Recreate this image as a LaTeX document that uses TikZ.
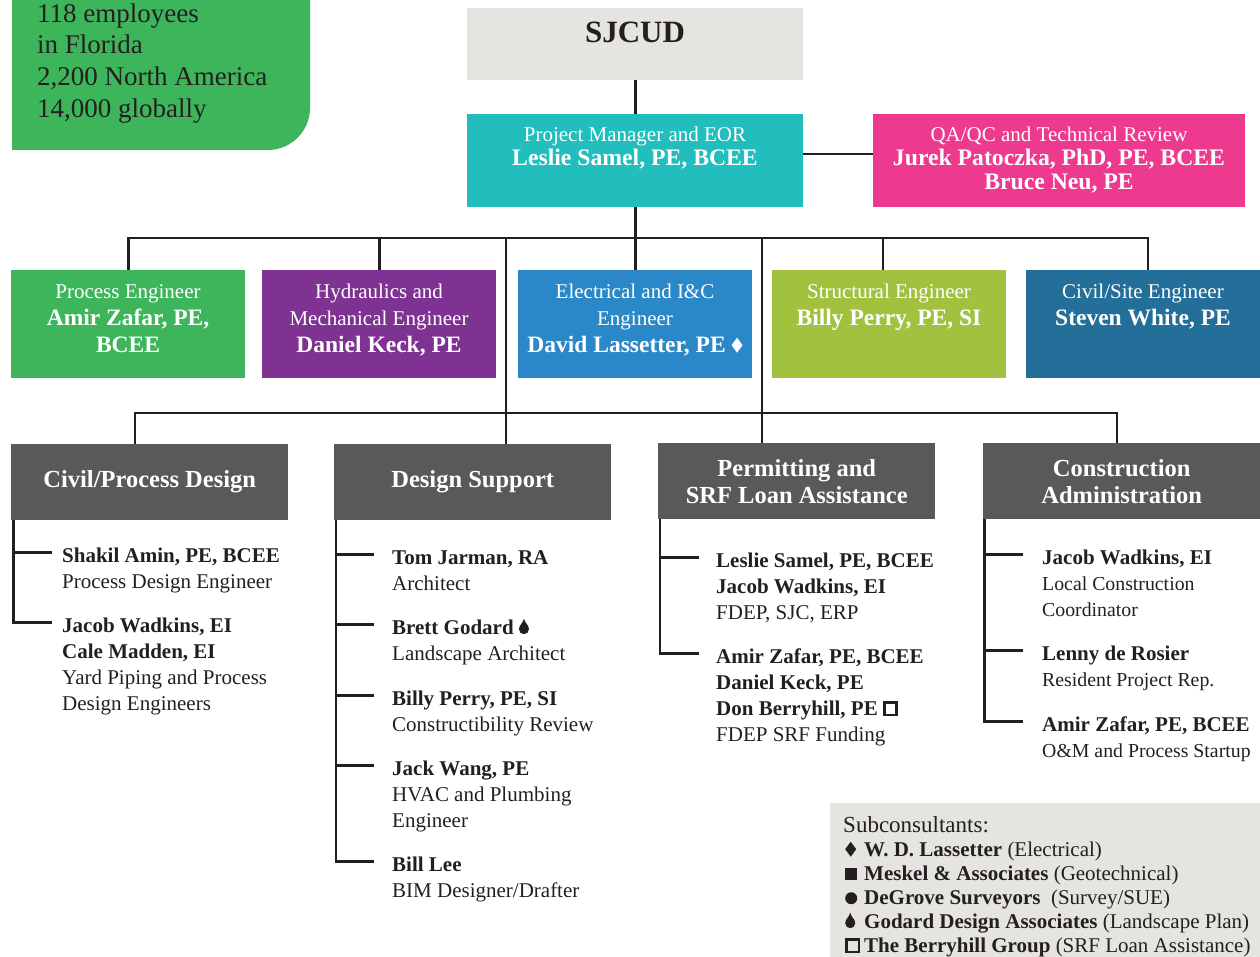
\documentclass[tikz,border=0pt]{standalone}
\usepackage{fontspec}
\setmainfont{Liberation Serif}
\definecolor{txt}{HTML}{231F20}
\definecolor{grn}{HTML}{3DB65B}
\definecolor{cteal}{HTML}{22BDBD}
\definecolor{cpink}{HTML}{EE3A8E}
\definecolor{cpurp}{HTML}{7E3292}
\definecolor{cblue}{HTML}{2B88C8}
\definecolor{clime}{HTML}{A1C13F}
\definecolor{cnavy}{HTML}{236F99}
\definecolor{chead}{HTML}{58595B}
\definecolor{clight}{HTML}{E5E4E0}
\newcommand\hfont{\fontsize{24.5}{27}\selectfont\bfseries}
\newcommand\bnm{\fontsize{23.7}{24}\selectfont\bfseries}
\newcommand\bnmE{\fontsize{23.5}{27}\selectfont\bfseries}
\newcommand\cond{\fontsize{19.8}{26}\selectfont}
\newcommand\symdiam[1][txt]{\tikz[baseline=0pt,x=1pt,y=1pt]\fill[#1] (5.5,-0.5)--(11,7)--(5.5,14.5)--(0,7)--cycle;}
\newcommand\symsq{\tikz[baseline=0pt,x=1pt,y=1pt]\fill[txt] (0,0) rectangle (12,12);}
\newcommand\symdot{\tikz[baseline=0pt,x=1pt,y=1pt]\fill[txt] (6,6) circle[radius=6];}
\newcommand\symdrop[1][txt]{\tikz[baseline=0pt,x=1pt,y=1pt]\fill[#1] (5,15.5) .. controls (6,11) and (10,9) .. (10,5) arc[start angle=0,end angle=-180,radius=5] .. controls (0,9) and (4,11) .. (5,15.5) -- cycle;}
\newcommand\symosq{\tikz[baseline=0pt,x=1pt,y=1pt]\draw[txt,line width=2.6pt] (1.3,0.3) rectangle (13.7,12.7);}
\newcommand\sitem[1]{\hspace*{2pt}\makebox[19pt][l]{#1}}
\tikzset{
  conn/.style={draw=txt, line width=2.7pt},
  boxn/.style={rectangle, inner sep=0pt, anchor=north west, draw=none},
  ebox/.style={boxn, minimum width=234pt, minimum height=108pt},
  hbox/.style={boxn, fill=chead, minimum width=277pt, minimum height=76pt, text=white, align=center, font=\hfont},
  wtxt/.style={anchor=north, inner sep=0pt, align=center, text=white},
  etxt/.style={wtxt, font=\fontsize{21}{27}\selectfont},
  ptxt/.style={wtxt, font=\fontsize{21}{24}\selectfont},
  entry/.style={anchor=north west, inner sep=0pt, align=left, text=txt, font=\fontsize{21}{26}\selectfont},
}
\begin{document}
\begin{tikzpicture}[x=1pt,y=-1pt]
\useasboundingbox (0,0) rectangle (1260,957);
% stats panel
\fill[grn] (12,-3) -- (310,-3) -- (310,108) arc[start angle=0,end angle=90,radius=42] -- (12,150) -- cycle;
\node[anchor=north west, inner sep=0pt, align=left, text=txt, font=\fontsize{27}{31.7}\selectfont] (stats) at (37,-0.2) {\strut 118 employees\\in Florida\\2,200 North America\\14,000 globally};
% top boxes
\node[boxn, fill=clight, minimum width=336pt, minimum height=72pt] (sj) at (467,8) {};
\node[anchor=base, inner sep=0pt, text=txt, font=\fontsize{31}{36}\selectfont\bfseries] (sjt) at (635,43) {SJCUD};
\node[boxn, fill=cteal, minimum width=336pt, minimum height=93pt] (pm) at (467,114) {};
\node[ptxt] (pmt) at (635,124.2) {\strut Project Manager and EOR\\\bnm Leslie Samel, PE, BCEE};
\node[boxn, fill=cpink, minimum width=372pt, minimum height=93pt] (qa) at (873,114) {};
\node[ptxt] (qat) at (1059,124.2) {\strut QA/QC and Technical Review\\\bnm Jurek Patoczka, PhD, PE, BCEE\\\bnm Bruce Neu, PE};
% engineer boxes
\node[ebox, fill=grn] (e1) at (11,270) {};
\node[etxt] (e1t) at (128,279.1) {\strut Process Engineer\\\bnmE Amir Zafar, PE,\\\bnmE BCEE};
\node[ebox, fill=cpurp] (e2) at (262,270) {};
\node[etxt] (e2t) at (379,279.1) {\strut Hydraulics and\\Mechanical Engineer\\\bnmE Daniel Keck, PE};
\node[ebox, fill=cblue] (e3) at (518,270) {};
\node[etxt] (e3t) at (635,279.1) {\strut Electrical and I\&C\\Engineer\\\bnmE David Lassetter, PE \symdiam[white]};
\node[ebox, fill=clime] (e4) at (772,270) {};
\node[etxt] (e4t) at (889,279.1) {\strut Structural Engineer\\\bnmE Billy Perry, PE, SI};
\node[ebox, fill=cnavy] (e5) at (1026,270) {};
\node[etxt] (e5t) at (1143,279.1) {\strut Civil/Site Engineer\\\bnmE Steven White, PE};
% headers
\node[hbox] (h1) at (11,444) {Civil/Process Design};
\node[hbox] (h2) at (334,444) {Design Support};
\node[hbox] (h3) at (658,443) {Permitting and\\SRF Loan Assistance};
\node[hbox] (h4) at (983,443) {Construction\\Administration};
% entries
\node[entry] (c1) at (62,543.8) {\strut\textbf{Shakil Amin, PE, BCEE}\\Process Design Engineer};
\node[entry] (c2) at (62,613.8) {\strut\textbf{Jacob Wadkins, EI}\\\textbf{Cale Madden, EI}\\Yard Piping and Process\\Design Engineers};
\node[entry] (d1) at (392,545.8) {\strut\textbf{Tom Jarman, RA}\\Architect};
\node[entry] (d2) at (392,615.8) {\strut\textbf{Brett Godard} \symdrop\\Landscape Architect};
\node[entry] (d3) at (392,686.8) {\strut\textbf{Billy Perry, PE, SI}\\Constructibility Review};
\node[entry] (d4) at (392,756.8) {\strut\textbf{Jack Wang, PE}\\HVAC and Plumbing\\Engineer};
\node[entry] (d5) at (392,852.8) {\strut\textbf{Bill Lee}\\BIM Designer/Drafter};
\node[entry] (p1) at (716,548.8) {\strut\textbf{Leslie Samel, PE, BCEE}\\\textbf{Jacob Wadkins, EI}\\FDEP, SJC, ERP};
\node[entry] (p2) at (716,644.8) {\strut\textbf{Amir Zafar, PE, BCEE}\\\textbf{Daniel Keck, PE}\\\textbf{Don Berryhill, PE} \symosq\\FDEP SRF Funding};
\node[entry] (k1) at (1042,545.8) {\strut\textbf{Jacob Wadkins, EI}\\{\cond Local Construction}\\{\cond Coordinator}};
\node[entry] (k2) at (1042,641.8) {\strut\textbf{Lenny de Rosier}\\{\cond Resident Project Rep.}};
\node[entry] (k3) at (1042,712.8) {\strut\textbf{Amir Zafar, PE, BCEE}\\{\cond O\&M and Process Startup}};
% subconsultants
\node[boxn, fill=clight, minimum width=430pt, minimum height=156pt] (sub) at (830,803) {};
\node[entry, font=\fontsize{21}{24}\selectfont] (subt) at (843,815.2) {{\fontsize{23}{24}\selectfont\strut Subconsultants:}\\
\sitem{\symdiam}\textbf{W. D. Lassetter} (Electrical)\\
\sitem{\symsq}\textbf{Meskel \& Associates} (Geotechnical)\\
\sitem{\symdot}\textbf{DeGrove Surveyors}\ \ (Survey/SUE)\\
\sitem{\symdrop}\textbf{Godard Design Associates} (Landscape Plan)\\
\sitem{\symosq}\textbf{The Berryhill Group} (SRF Loan Assistance)};
% connectors
\coordinate (bar1) at (0,238);
\coordinate (bar2) at (0,413);
\coordinate (qay) at (0,154);
\coordinate (v1) at (135,0);
\coordinate (v2) at (506,0);
\coordinate (v3) at (762,0);
\coordinate (v4) at (1117,0);
\coordinate (x4) at (883,0);
\coordinate (x5) at (1148,0);
\draw[conn] (sj.south) -- (pm.north);
\draw[conn] (pm.east |- qay) -- (qa.west |- qay);
\draw[conn] (pm.south) -- (pm.south |- bar1);
\draw[conn] (e1.north) -- (e1.north |- bar1) -- (x5 |- bar1) -- (x5 |- e5.north);
\draw[conn] (e2.north) -- (e2.north |- bar1);
\draw[conn] (e3.north) -- (e3.north |- bar1);
\draw[conn] (x4 |- e4.north) -- (x4 |- bar1);
\draw[conn] (v2 |- bar1) -- (v2 |- h2.north);
\draw[conn] (v3 |- bar1) -- (v3 |- h3.north);
\draw[conn] (v1 |- h1.north) -- (v1 |- bar2) -- (v4 |- bar2) -- (v4 |- h4.north);
% branch coordinates
\coordinate (cv) at ([xshift=2.5pt]h1.south west);
\coordinate (dv) at ([xshift=2pt]h2.south west);
\coordinate (pv) at ([xshift=2pt]h3.south west);
\coordinate (kv) at ([xshift=1.5pt]h4.south west);
\coordinate (cb) at (52,0);
\coordinate (db) at (374,0);
\coordinate (pb) at (699,0);
\coordinate (kb) at (1023,0);
\foreach \n in {c1,c2,d1,d2,d3,d4,d5,p1,p2,k1,k2,k3}{\coordinate (\n b) at ([yshift=-8.5pt]\n.north west);}
\draw[conn] (cv) |- (cb |- c2b);
\draw[conn] (cv |- c1b) -- (cb |- c1b);
\draw[conn] (dv) |- (db |- d5b);
\foreach \n in {d1,d2,d3,d4}{\draw[conn] (dv |- \n b) -- (db |- \n b);}
\draw[conn] (pv) |- (pb |- p2b);
\draw[conn] (pv |- p1b) -- (pb |- p1b);
\draw[conn] (kv) |- (kb |- k3b);
\foreach \n in {k1,k2}{\draw[conn] (kv |- \n b) -- (kb |- \n b);}
\end{tikzpicture}
\end{document}
